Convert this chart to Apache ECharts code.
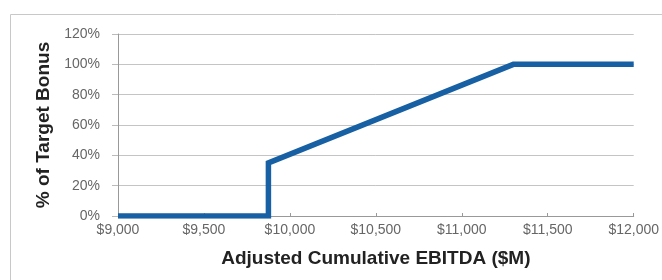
<!DOCTYPE html>
<html>
<head>
    <meta charset="utf-8">
    <title>Target Bonus</title>
    <script src="https://cdn.jsdelivr.net/npm/echarts@6/dist/echarts.min.js"></script>
    <style>
        html, body { margin: 0; padding: 0; background: #fff; }
    </style>
</head>
<body>
    <div id="main" style="width: 662px;height:280px;"></div>
    <script type="text/javascript">
        // payout curve, EBITDA ($M) vs % of target bonus
        var ebitda = [9000, 9875, 9875, 11300, 12000];
        var bonusPct = [0, 0, 35, 100, 100];
        var xTicks = [9000, 9500, 10000, 10500, 11000, 11500, 12000];
        var yTicks = [0, 20, 40, 60, 80, 100, 120];

        var points = [];
        for (var i = 0; i < ebitda.length; i++) {
            points.push([ebitda[i], bonusPct[i]]);
        }

        var myChart = echarts.init(document.getElementById('main'));
        var labelFont = 'Liberation Sans, Arial, sans-serif';

        var option = {
            animation: false,
            graphic: [
                { // frame: left and top edges only
                    type: 'polyline',
                    shape: { points: [[10.5, 290], [10.5, 14.5], [670, 14.5]] },
                    style: { stroke: '#c8c8c8', lineWidth: 1, fill: null }
                }
            ],
            grid: {
                left: 118,
                right: 28,
                top: 34,
                bottom: 64
            },
            xAxis: {
                type: 'value',
                min: xTicks[0],
                max: xTicks[xTicks.length - 1],
                interval: 500,
                name: 'Adjusted Cumulative EBITDA ($M)',
                nameLocation: 'middle',
                nameGap: 33,
                nameTextStyle: { fontFamily: labelFont, fontWeight: 'bold', fontSize: 19, color: '#222' },
                axisLine: { lineStyle: { color: '#999' } },
                axisTick: { inside: true, length: 3, lineStyle: { color: '#999' } },
                splitLine: { show: false },
                axisLabel: {
                    margin: 7,
                    fontFamily: labelFont,
                    fontSize: 14,
                    color: '#666',
                    formatter: function (v) { return '$' + v.toLocaleString('en-US'); }
                }
            },
            yAxis: {
                type: 'value',
                min: yTicks[0],
                max: yTicks[yTicks.length - 1],
                interval: 20,
                name: '% of Target Bonus',
                nameLocation: 'middle',
                nameGap: 64,
                nameTextStyle: { fontFamily: labelFont, fontWeight: 'bold', fontSize: 19, color: '#222' },
                axisLine: { show: true, lineStyle: { color: '#999' } },
                axisTick: { show: true, length: 6, lineStyle: { color: '#bbb' } },
                splitLine: { lineStyle: { color: '#c4c4c4' } },
                axisLabel: {
                    margin: 18,
                    fontFamily: labelFont,
                    fontSize: 14,
                    color: '#666',
                    formatter: '{value}%'
                }
            },
            series: [
                {
                    type: 'line',
                    data: points,
                    symbol: 'none',
                    lineStyle: { color: '#1660a3', width: 5.5, join: 'miter' }
                }
            ]
        };

        myChart.setOption(option);
    </script>
</body>
</html>
